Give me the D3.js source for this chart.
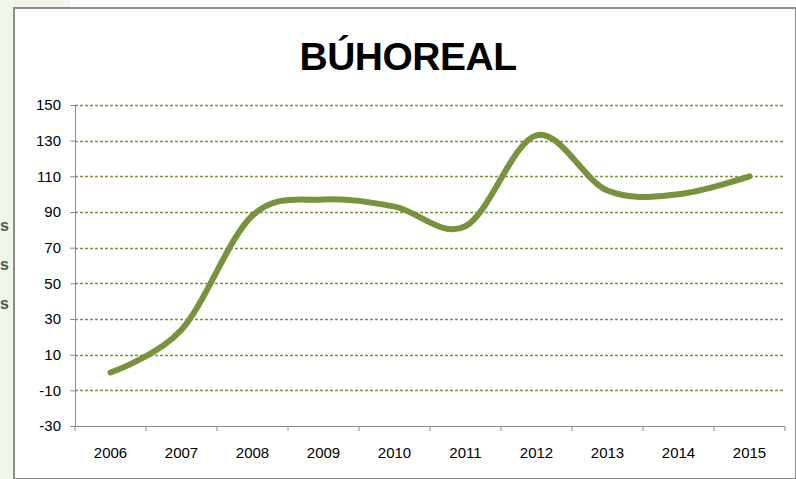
<!DOCTYPE html>
<html>
<head>
<meta charset="utf-8">
<script src="https://cdn.jsdelivr.net/npm/d3@7"></script>
<style>
  body { margin: 0; background: #fff; }
  svg { display: block; font-family: "Liberation Sans", Arial, sans-serif; }
</style>
</head>
<body>
<div id="chart"></div>
<script>
// chart data
const years = ["2006", "2007", "2008", "2009", "2010", "2011", "2012", "2013", "2014", "2015"];
const counts = [0, 24, 88, 97, 93, 82, 133, 102, 100, 110];
const yTicks = [-30, -10, 10, 30, 50, 70, 90, 110, 130, 150];
const title = "BÚHOREAL";

const W = 796, H = 479;
const margin = { top: 105, right: 11, bottom: 53, left: 75 };
const width = W - margin.left - margin.right;
const height = H - margin.top - margin.bottom;
const green = "#77933c";

const svg = d3.select("#chart").append("svg")
    .attr("width", W)
    .attr("height", H);

// slide background behind the chart frame
svg.append("rect").attr("x", 0).attr("y", 0).attr("width", 70).attr("height", H).attr("fill", "#f1f6ea");
svg.append("rect").attr("x", 14).attr("y", 8).attr("width", W - 14).attr("height", H - 8)
    .attr("fill", "#fff").attr("stroke", "#8c8c8c").attr("stroke-width", 2);

// bits of slide text peeking out on the left
[231, 270, 309].forEach(y => {
    svg.append("text").attr("x", 9).attr("y", y).attr("text-anchor", "end")
        .style("font-size", "16px").style("font-weight", "bold").style("fill", "#555")
        .text("s");
});

// title
svg.append("text")
    .attr("x", 408)
    .attr("y", 70)
    .attr("text-anchor", "middle")
    .style("font-size", "39px")
    .style("font-weight", "bold")
    .style("letter-spacing", "-0.5px")
    .text(title);

const g = svg.append("g").attr("transform", `translate(${margin.left},${margin.top})`);

const x = d3.scaleBand().domain(years).range([0, width]);
const y = d3.scaleLinear().domain([-30, 150]).range([height, 0]);

// gridlines
g.selectAll(".grid")
    .data(yTicks.filter(t => t !== -30))
    .enter()
    .append("line")
    .attr("x1", 0)
    .attr("x2", width)
    .attr("y1", d => Math.round(y(d)) + 0.5)
    .attr("y2", d => Math.round(y(d)) + 0.5)
    .style("stroke", green)
    .style("stroke-width", 1.3)
    .style("stroke-dasharray", "3,2");

// y axis
const yAxis = g.append("g")
    .call(d3.axisLeft(y).tickValues(yTicks).tickSize(5).tickPadding(9).tickFormat(d => String(d)));
yAxis.selectAll("text").style("font-size", "15px").style("fill", "#000");
yAxis.selectAll("line, path").style("stroke", "#8c8c8c");

// x axis with ticks at band edges
const xAxis = g.append("g").attr("transform", `translate(0,${height})`);
xAxis.append("line").attr("x1", 0).attr("x2", width).attr("y1", 0.5).attr("y2", 0.5)
    .style("stroke", "#8c8c8c");
xAxis.selectAll(".xt")
    .data(years.concat(["end"]))
    .enter()
    .append("line")
    .attr("x1", (d, i) => i < years.length ? x(d) : width)
    .attr("x2", (d, i) => i < years.length ? x(d) : width)
    .attr("y1", 0)
    .attr("y2", 5)
    .style("stroke", "#8c8c8c");
xAxis.selectAll(".xl")
    .data(years)
    .enter()
    .append("text")
    .attr("x", d => x(d) + x.bandwidth() / 2)
    .attr("y", 32)
    .attr("text-anchor", "middle")
    .style("font-size", "15px")
    .text(d => d);

// smoothed series line
const line = d3.line()
    .x((d, i) => x(years[i]) + x.bandwidth() / 2)
    .y(d => y(d))
    .curve(d3.curveCatmullRom.alpha(0));

g.append("path")
    .datum(counts)
    .attr("d", line)
    .attr("fill", "none")
    .style("stroke", green)
    .style("stroke-width", 6)
    .style("stroke-linecap", "round");
</script>
</body>
</html>
